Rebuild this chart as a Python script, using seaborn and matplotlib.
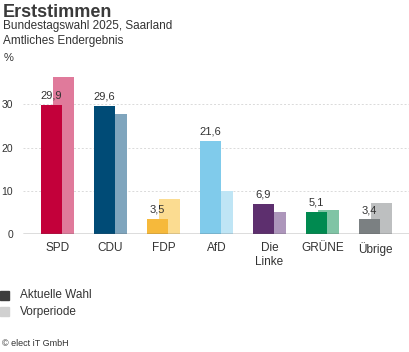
import matplotlib
matplotlib.use("Agg")
import matplotlib.pyplot as plt
import seaborn as sns
import pandas as pd
from matplotlib.patches import Rectangle

parties = ["SPD", "CDU", "FDP", "AfD", "Die\nLinke", "GRÜNE", "Übrige"]
current = [29.9, 29.6, 3.5, 21.6, 6.9, 5.1, 3.4]
previous = [36.3, 27.7, 8.0, 9.9, 5.2, 5.5, 7.2]
current_colors = ["#c3003a", "#004b76", "#f6b93b", "#80cbeb", "#5d2f6e", "#008a50", "#7b8082"]
previous_colors = ["#e07a9b", "#7fa5bd", "#fbdc91", "#bfe5f5", "#ad96bb", "#80c4a5", "#bdbfc0"]
value_labels = ["29,9", "29,6", "3,5", "21,6", "6,9", "5,1", "3,4"]
yticks = [0, 10, 20, 30]

sns.set_theme(style="white")
plt.rcParams["font.family"] = ["Liberation Sans", "DejaVu Sans"]
TXT = "#333333"

fig = plt.figure(figsize=(4.1, 3.52), dpi=100)
ax = fig.add_axes([23 / 410, 118 / 352, 387 / 410, 173 / 352])

off = 0.113
W = 0.396
df_prev = pd.DataFrame({"x": [i + off for i in range(len(parties))], "y": previous, "party": parties})
df_cur = pd.DataFrame({"x": [i - off for i in range(len(parties))], "y": current, "party": parties})

sns.barplot(data=df_prev, x="x", y="y", hue="party", palette=dict(zip(parties, previous_colors)),
            native_scale=True, dodge=False, width=W, legend=False, ax=ax, saturation=1,
            linewidth=0, zorder=2)
sns.barplot(data=df_cur, x="x", y="y", hue="party", palette=dict(zip(parties, current_colors)),
            native_scale=True, dodge=False, width=W, legend=False, ax=ax, saturation=1,
            linewidth=0, zorder=3)

for i, (v, lab) in enumerate(zip(current, value_labels)):
    ax.annotate(lab, (i - off, v), xytext=(0, 3), textcoords="offset points",
                ha="center", va="bottom", fontsize=8, color=TXT, zorder=5)

ax.set_xlim(-0.651, 6.651)
ax.set_ylim(0, 40)
ax.set_yticks(yticks)
ax.set_yticklabels([str(t) for t in yticks])
ax.set_xticks(range(len(parties)))
ax.set_xticklabels(parties)
ax.tick_params(axis="y", length=0, pad=7, labelsize=7.5, labelcolor=TXT)
ax.tick_params(axis="x", length=0, pad=6, labelsize=8.5, labelcolor=TXT)
for lab in ax.get_yticklabels():
    lab.set_horizontalalignment("right")
ax.set_xlabel("")
ax.set_ylabel("")
for s in ax.spines.values():
    s.set_visible(False)
for t in [10, 20, 30]:
    ax.axhline(t, color="#dadada", lw=0.7, ls=(0, (2, 2)), zorder=1)
ax.axhline(0, color="#555555", lw=1.0, zorder=4)

fig.text(3 / 410, 1 - 4 / 352, "Erststimmen", fontsize=13, fontweight="bold", color="#3a3a3a",
         ha="left", va="top")
fig.text(3 / 410, 1 - 20 / 352, "Bundestagswahl 2025, Saarland", fontsize=8.5, color=TXT, ha="left", va="top")
fig.text(3 / 410, 1 - 35 / 352, "Amtliches Endergebnis", fontsize=8.5, color=TXT, ha="left", va="top")
fig.text(4 / 410, 1 - 53 / 352, "%", fontsize=8, color=TXT, ha="left", va="top")

fig.patches.append(Rectangle((0, 1 - 300 / 352), 9 / 410, 9 / 352, transform=fig.transFigure,
                             color="#3c3c3c", figure=fig))
fig.patches.append(Rectangle((0, 1 - 316 / 352), 9 / 410, 9 / 352, transform=fig.transFigure,
                             color="#d0d0d0", figure=fig))
fig.text(20 / 410, 1 - 295.5 / 352, "Aktuelle Wahl", fontsize=8.5, color=TXT, ha="left", va="center")
fig.text(20 / 410, 1 - 311.5 / 352, "Vorperiode", fontsize=8.5, color=TXT, ha="left", va="center")
fig.text(2 / 410, 1 - 343 / 352, "© elect iT GmbH", fontsize=6.5, color=TXT, ha="left", va="center")

fig.savefig("out.png", dpi=100)
